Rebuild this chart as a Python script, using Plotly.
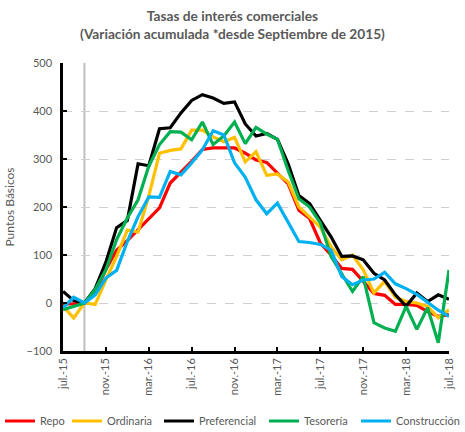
import plotly.graph_objects as go

months = list(range(37))
tick_vals = [0, 4, 8, 12, 16, 20, 24, 28, 32, 36]
tick_text = ["jul.-15", "nov.-15", "mar.-16", "jul.-16", "nov.-16", "mar.-17",
             "jul.-17", "nov.-17", "mar.-18", "jul.-18"]

repo = [-2, -2, 0, 20, 70, 110, 130, 152, 175, 198, 250, 272, 295, 320, 323, 323, 323, 312,
        298, 293, 270, 248, 193, 176, 125, 100, 72, 70, 45, 20, 16, -3, -3, -5, -18, -28, -24]
ordinaria = [-7, -31, 0, -3, 48, 97, 152, 148, 223, 312, 318, 321, 360, 360, 346, 336, 345, 294,
             315, 266, 269, 252, 200, 179, 158, 117, 90, 100, 69, 21, 45, 12, 3, 0, -7, -31, -14]
preferencial = [24, 5, 0, 30, 85, 157, 172, 290, 286, 363, 365, 396, 422, 434, 427, 416, 419, 373,
                348, 353, 341, 290, 224, 207, 172, 138, 97, 98, 90, 62, 48, 17, -7, 21, 3, 17, 8]
tesoreria = [-14, -7, 0, 28, 69, 132, 177, 215, 285, 330, 357, 356, 340, 377, 330, 348, 377, 332,
             366, 352, 341, 276, 217, 200, 167, 97, 62, 24, 55, -41, -52, -59, -7, -55, -10, -83, 69]
construccion = [-10, 12, 0, 17, 52, 68, 128, 180, 221, 220, 274, 267, 292, 319, 359, 350, 292, 262,
                215, 186, 208, 169, 128, 126, 122, 110, 55, 38, 48, 50, 64, 40, 30, 18, 2, -15, -28]

series = [
    ("Repo", repo, "#FF0000"),
    ("Ordinaria", ordinaria, "#FFC000"),
    ("Preferencial", preferencial, "#000000"),
    ("Tesorería", tesoreria, "#00B050"),
    ("Construcción", construccion, "#00B0F0"),
]
legend_left_px = [-3, 67, 159, 264, 356]

GRAY = "#595959"
FONT = "Lato"
W, H = 465, 432

fig = go.Figure()
legend_layout = {}
for k, ((name, vals, col), lx) in enumerate(zip(series, legend_left_px)):
    lname = "legend" if k == 0 else f"legend{k + 1}"
    fig.add_trace(go.Scatter(x=months, y=vals, mode="lines", name=name,
                             line=dict(color=col, width=3.2), legend=lname))
    legend_layout[lname] = dict(orientation="h", xref="container", x=lx / W, xanchor="left",
                                yref="container", y=1 - 421 / H, yanchor="middle",
                                font=dict(family=FONT, size=11, color=GRAY),
                                itemwidth=30, bgcolor="rgba(0,0,0,0)", borderwidth=0)

fig.add_shape(type="line", x0=2, x1=2, y0=-100, y1=500, xref="x", yref="y",
              line=dict(color="#BFBFBF", width=2), layer="below")

fig.add_annotation(text="<b>Tasas de interés comerciales</b><br><b>(Variación acumulada *desde Septiembre de 2015)</b>",
                   xref="paper", yref="paper", x=(232.5 - 63) / 386, y=1 + (63 - 5) / 288,
                   xanchor="center", yanchor="top", showarrow=False,
                   font=dict(family=FONT, size=13.7, color=GRAY))

fig.update_layout(
    width=W, height=H,
    margin=dict(l=63, r=16, t=63, b=81, autoexpand=False),
    paper_bgcolor="white", plot_bgcolor="white",
    font=dict(family=FONT, color=GRAY, size=11),
    showlegend=True,
    **legend_layout,
)

fig.update_xaxes(range=[0, 36], tickmode="array", tickvals=tick_vals, ticktext=tick_text,
                 tickangle=-90, showgrid=False, zeroline=False, automargin=False,
                 showline=True, linecolor="black", linewidth=2.5,
                 ticks="inside", ticklen=4, tickwidth=2, tickcolor="black",
                 tickfont=dict(family=FONT, size=11, color=GRAY))
fig.update_yaxes(range=[-100, 500], tickvals=[-100, 0, 100, 200, 300, 400, 500],
                 showgrid=True, gridcolor="#D0D0D0", griddash="dash", gridwidth=1,
                 zeroline=False, showline=True, linecolor="black", linewidth=2.5,
                 ticks="inside", ticklen=4, tickwidth=2, tickcolor="black", automargin=False,
                 ticklabelstandoff=6,
                 tickfont=dict(family=FONT, size=11, color=GRAY),
                 title=dict(text="Puntos Básicos", font=dict(family=FONT, size=12, color=GRAY),
                            standoff=10))

fig.write_html("out.html", config={"displayModeBar": False},
               post_script="document.body.style.margin='0';")
